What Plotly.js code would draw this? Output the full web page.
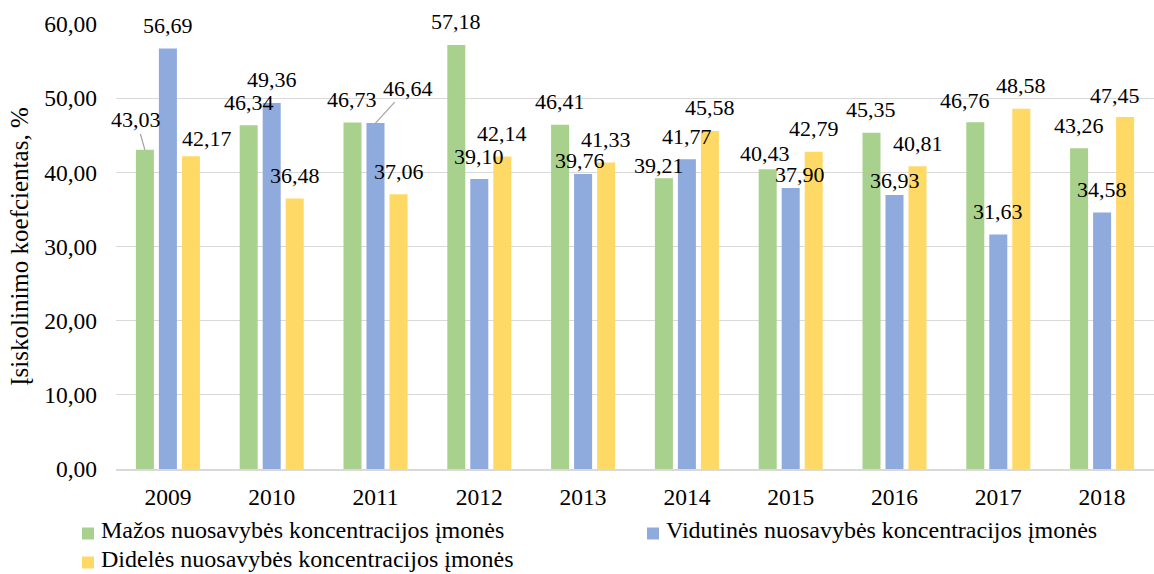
<!DOCTYPE html>
<html><head><meta charset="utf-8">
<script src="https://cdn.plot.ly/plotly-3.0.1.min.js"></script>
<style>html,body{margin:0;padding:0;background:#fff}#chart{width:1154px;height:574px}</style>
</head><body><div id="chart"></div>
<script>
const years = ['2009','2010','2011','2012','2013','2014','2015','2016','2017','2018'];
const seriesNames = [
  'Mažos nuosavybės koncentracijos įmonės',
  'Vidutinės nuosavybės koncentracijos įmonės',
  'Didelės nuosavybės koncentracijos įmonės'
];
const lowConc  = [43.03, 46.34, 46.73, 57.18, 46.41, 39.21, 40.43, 45.35, 46.76, 43.26];
const midConc  = [56.69, 49.36, 46.64, 39.10, 39.76, 41.77, 37.90, 36.93, 31.63, 34.58];
const highConc = [42.17, 36.48, 37.06, 42.14, 41.33, 45.58, 42.79, 40.81, 48.58, 47.45];
const yTitle = 'Įsiskolinimo koefcientas, %';

const colors = ['#A9D18E', '#8FAADC', '#FFD966'];
const FONT = '"Liberation Serif", "Times New Roman", serif';
const W = 1154, H = 574;
const M = {l: 116, r: 0, t: 24, b: 105};
const BARGAP = 0.335, GROUPGAP = 0.217;
const slot = (1 - BARGAP) / 3;
// label placement nudges: "series-yearIndex": [dx px, dy px above bar top, leader line]
const nudges = {
  '0-0': [-8.5, 30, true], '2-0': [16, 17.5], '1-2': [32, 35, true],
  '1-4': [-3, 14], '0-5': [-5, 12.5], '0-6': [-3, 15.5], '1-6': [9, 13],
  '1-7': [0, 14.5], '0-8': [-10, 22], '2-9': [-10, 22]
};

const allSeries = [lowConc, midConc, highConc];
const traces = allSeries.map((vals, s) => ({
  type: 'bar', x: years, y: vals, name: seriesNames[s],
  marker: {color: colors[s], line: {width: 0}}, hoverinfo: 'skip', showlegend: false
}));

const fmt = v => v.toFixed(2).replace('.', ',');
const annotations = [];
allSeries.forEach((vals, s) => {
  vals.forEach((v, i) => {
    const n = nudges[s + '-' + i] || [0, 23];
    annotations.push({
      x: i + (s - 1) * slot, y: v, xref: 'x', yref: 'y',
      text: fmt(v), showarrow: true, ax: n[0], ay: -n[1],
      arrowhead: 0, arrowwidth: 1.3, standoff: 0,
      arrowcolor: n[2] ? '#A6A6A6' : 'rgba(0,0,0,0)',
      font: {family: FONT, size: 22, color: '#000'}
    });
  });
});

// manual legend (pixel layout converted to paper coordinates)
const pw = W - M.l - M.r, ph = H - M.t - M.b;
const px = x => (x - M.l) / pw;
const py = y => (H - M.b - y) / ph;
const legendSlots = [[82, 533.5], [647, 533.5], [82, 562.5]];
const SQ = 12, TXT_GAP = 5, TXT_RAISE = 3.5;
const shapes = [];
seriesNames.forEach((name, s) => {
  const [lx, ly] = legendSlots[s];
  shapes.push({
    type: 'rect', xref: 'paper', yref: 'paper',
    x0: px(lx), x1: px(lx + SQ), y0: py(ly + SQ / 2), y1: py(ly - SQ / 2),
    fillcolor: colors[s], line: {width: 0}
  });
  annotations.push({
    xref: 'paper', yref: 'paper', x: px(lx + SQ + TXT_GAP), y: py(ly - TXT_RAISE),
    xanchor: 'left', yanchor: 'middle', showarrow: false, text: name,
    font: {family: FONT, size: 24, color: '#000'}
  });
});

const layout = {
  width: W, height: H, margin: M,
  paper_bgcolor: '#fff', plot_bgcolor: '#fff',
  separators: ',.',
  font: {family: FONT, size: 22, color: '#000'},
  barmode: 'group', bargap: BARGAP, bargroupgap: GROUPGAP,
  showlegend: false,
  xaxis: {
    type: 'category', automargin: false, showline: true, linecolor: '#D9D9D9', linewidth: 1.5,
    ticks: '', showgrid: false, ticklabelstandoff: 6, range: [-0.5, 9.5],
    tickfont: {family: FONT, size: 23.5, color: '#000'}
  },
  yaxis: {
    range: [0, 60], dtick: 10, tickformat: '.2f', automargin: false,
    showgrid: true, gridcolor: '#D9D9D9', gridwidth: 1.3,
    zeroline: false, showline: false, ticks: '', ticklabelstandoff: 18,
    tickfont: {family: FONT, size: 23.5, color: '#000'},
    title: {text: yTitle, standoff: 8, font: {family: FONT, size: 25, color: '#000'}}
  },
  shapes: shapes,
  annotations: annotations
};

Plotly.newPlot('chart', traces, layout, {displayModeBar: false, staticPlot: true});
</script>
</body></html>
